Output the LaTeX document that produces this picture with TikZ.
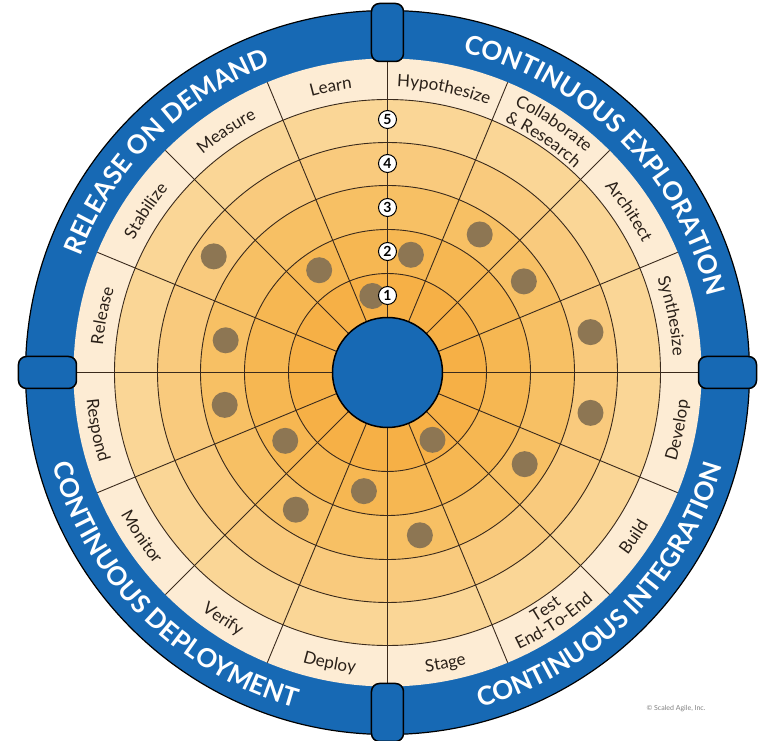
\documentclass[tikz,border=0pt]{standalone}
\usepackage{fontspec}
\setmainfont{Lato}
\usetikzlibrary{decorations.text}

\tikzset{
  grid_line/.style={draw=grid_brown, line width=0.9},
  axis_line/.style={draw=grid_brown, line width=1.8},
  tab_box/.style={draw=black, fill=safe_blue, line width=1.5, rounded corners=8,
    minimum width=58, minimum height=32, inner sep=0},
  step_badge/.style={circle, draw=black, fill=white, line width=1, minimum size=18,
    inner sep=0, font=\fontsize{14}{14}\selectfont\bfseries},
  practice_dot/.style={fill=dot_brown},
}

\newcommand{\stagefont}{\fontsize{17}{20}\selectfont\color{label_ink}}
\newcommand{\bandfont}{\fontsize{26}{30}\selectfont\bfseries\color{white}}

% curved text, upper half reads clockwise, lower half counter-clockwise
\newcommand{\toplabel}[3]{%
  \path[decorate, decoration={text along path, text align=center, text={|\stagefont|#3}}]
    ({#1+40}:#2) arc[start angle={#1+40}, end angle={#1-40}, radius=#2];}
\newcommand{\bottomlabel}[3]{%
  \path[decorate, decoration={text along path, text align=center, text={|\stagefont|#3}}]
    ({#1-40}:#2) arc[start angle={#1-40}, end angle={#1+40}, radius=#2];}

\begin{document}
\begin{tikzpicture}[x=1pt, y=1pt]

\definecolor{safe_blue}{HTML}{1769B4}
\definecolor{label_cream}{HTML}{FDECD4}
\definecolor{ring_five}{HTML}{FAD696}
\definecolor{ring_four}{HTML}{F9CA7D}
\definecolor{ring_three}{HTML}{F7C064}
\definecolor{ring_two}{HTML}{F6B752}
\definecolor{ring_one}{HTML}{F6B046}
\definecolor{grid_brown}{HTML}{3A2A1C}
\definecolor{dot_brown}{HTML}{8D7653}
\definecolor{label_ink}{HTML}{2A2018}

\useasboundingbox (-387.5,-368.5) rectangle (373.5,372.5);

% blue band and rings
\fill[safe_blue, draw=black, line width=1.2] (0,0) circle (362);
\fill[label_cream] (0,0) circle (314);
\foreach \r/\c in {273/ring_five, 230/ring_four, 187/ring_three, 143/ring_two, 99/ring_one}
  \fill[\c] (0,0) circle (\r);

\foreach \r in {99,143,187,230,273}
  \draw[grid_line] (0,0) circle (\r);

\foreach \k in {0,...,15}
  \draw[grid_line] ({\k*22.5}:55) -- ({\k*22.5}:314);
\foreach \k in {0,...,3}
  \draw[axis_line] ({\k*90}:55) -- ({\k*90}:314);

% practice dots
\foreach \a/\r in {146.25/209, 123.75/123, 101.25/78, 78.75/120, 56.25/166, 33.75/164,
                   11.25/207, -11.25/207, -33.75/165, -56.25/81, -78.75/166, -101.25/121,
                   -123.75/165, -146.25/123, -168.75/166, 168.75/165}
  \fill[practice_dot] (\a:\r) circle (13);

\fill[safe_blue, draw=black, line width=1.5] (0,0) circle (55);

% step numbers
\foreach \k in {1,...,5}
  \node[step_badge] (badge\k) at (0,{33+44*\k}) {\k};

% tabs on the band
\node[tab_box, rotate=90] (tab_top) at (90:340) {};
\node[tab_box, rotate=90] (tab_bottom) at (270:340) {};
\node[tab_box] (tab_left) at (180:340) {};
\node[tab_box] (tab_right) at (0:340) {};

% band titles
\path[decorate, decoration={text along path, text align=center, text={|\bandfont|RELEASE ON DEMAND}}]
  (180:328.5) arc[start angle=180, end angle=90, radius=328.5];
\path[decorate, decoration={text along path, text align=center, text={|\bandfont|CONTINUOUS EXPLORATION}}]
  (90:328.5) arc[start angle=90, end angle=0, radius=328.5];
\path[decorate, decoration={text along path, text align=center, text={|\bandfont|CONTINUOUS DEPLOYMENT}}]
  (180:347.5) arc[start angle=180, end angle=270, radius=347.5];
\path[decorate, decoration={text along path, text align=center, text={|\bandfont|CONTINUOUS INTEGRATION}}]
  (270:347.5) arc[start angle=270, end angle=360, radius=347.5];

% stage labels
\toplabel{101.25}{286}{Learn}
\toplabel{78.75}{286}{Hypothesize}
\toplabel{56.25}{296}{Collaborate}
\toplabel{56.25}{277}{{\&} Research}
\toplabel{33.75}{286}{Architect}
\toplabel{11.25}{286}{Synthesize}
\toplabel{123.75}{286}{Measure}
\toplabel{146.25}{286}{Stabilize}
\toplabel{168.75}{286}{Release}
\bottomlabel{-11.25}{302}{Develop}
\bottomlabel{-33.75}{302}{Build}
\bottomlabel{-56.25}{290}{Test}
\bottomlabel{-56.25}{307}{End-To-End}
\bottomlabel{-78.75}{302}{Stage}
\bottomlabel{-101.25}{302}{Deploy}
\bottomlabel{-123.75}{302}{Verify}
\bottomlabel{-146.25}{302}{Monitor}
\bottomlabel{-168.75}{302}{Respond}

\node[text=gray, font=\fontsize{7}{8}\selectfont] (credit) at (288.5,-336.5) {\textcopyright{} Scaled Agile, Inc.};

\end{tikzpicture}
\end{document}
